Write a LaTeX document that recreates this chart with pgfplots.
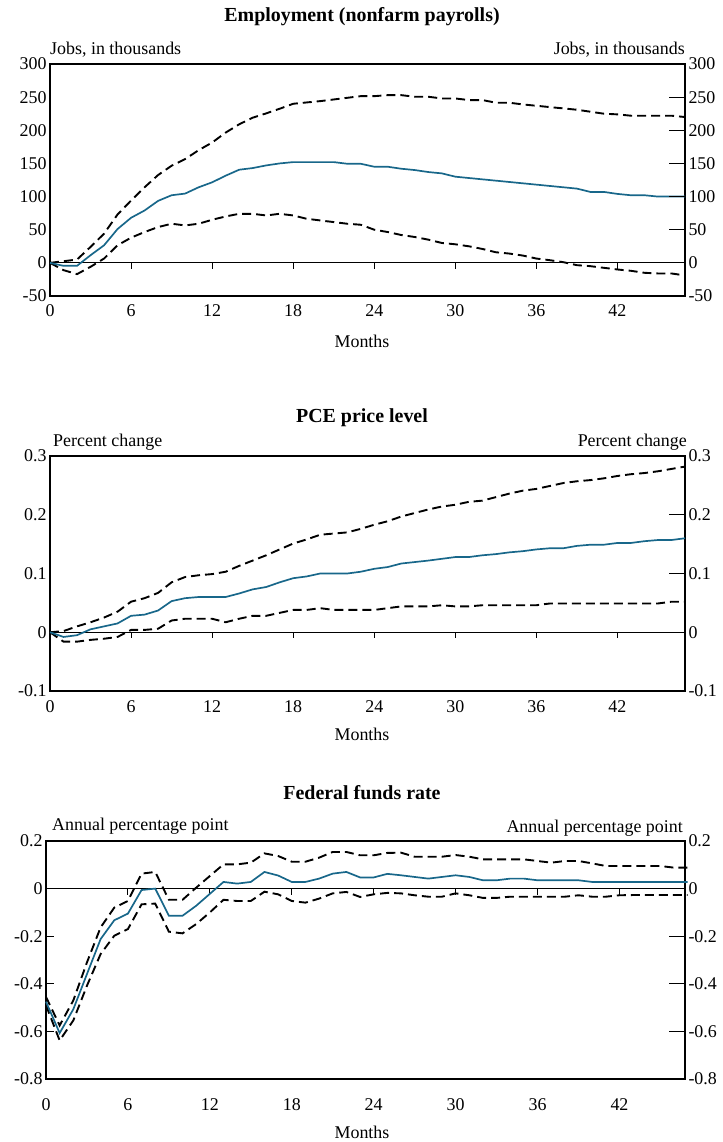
\documentclass[border=0pt]{standalone}
\usepackage{fontspec}
\setmainfont{Liberation Serif}
\usepackage{pgfplots}
\usepackage{pgfplotstable}
\pgfplotsset{compat=1.18}
\definecolor{irfblue}{RGB}{24,103,138}
\newcommand\lbl{\fontsize{18}{20}\selectfont}
\newcommand\ttl{\bfseries\fontsize{20}{22}\selectfont}

\pgfplotstableread{
m mid up lo
0 0 0 0
1 -4.5 2.5 -11
2 -4.5 5 -17
3 11.5 24 -6
4 26.5 44 6.5
5 51 73 26.5
6 68 94 38
7 79 114 46.5
8 93.5 132.5 54
9 102 146.5 59
10 104.5 156.5 56.5
11 114 170 59
12 121.5 181.5 65
13 131.5 196.5 70
14 140.5 209 74
15 143 219 74
16 147 225.5 71.5
17 150 232.5 74
18 152 240 71.5
19 152 242 66.5
20 152 244 64
21 152 246.5 61.5
22 149.5 249 59
23 149.5 251.5 57.5
24 145 251.5 50
25 145 253 46.5
26 142 253 42
27 140 250.6 39
28 137 250.6 35
29 135 248 30
30 130 248 28
31 128 245.6 25
32 126 245.6 21
33 124 241.6 16
34 122 241.6 14
35 120 239 11
36 118 237 6.5
37 116 235 4
38 114 233 1
39 112 231 -3.5
40 107 228 -5
41 107 225 -7.5
42 104 224 -10
43 102 222 -12
44 102 222 -15
45 100 222 -16
46 100 222 -16
47 100 220 -19
}\dEmp

\pgfplotstableread{
m mid up lo
0 0 0 0
1 -0.008 0.002 -0.016
2 -0.005 0.010 -0.016
3 0.005 0.017 -0.013
4 0.010 0.025 -0.011
5 0.015 0.035 -0.008
6 0.028 0.052 0.004
7 0.030 0.058 0.004
8 0.037 0.067 0.006
9 0.053 0.085 0.020
10 0.058 0.094 0.023
11 0.060 0.097 0.023
12 0.060 0.099 0.023
13 0.060 0.103 0.017
14 0.066 0.113 0.023
15 0.073 0.122 0.028
16 0.077 0.131 0.028
17 0.085 0.141 0.033
18 0.092 0.151 0.038
19 0.095 0.158 0.038
20 0.100 0.166 0.041
21 0.100 0.168 0.038
22 0.100 0.170 0.038
23 0.103 0.176 0.038
24 0.108 0.183 0.038
25 0.111 0.189 0.041
26 0.117 0.197 0.044
27 0.1195 0.203 0.044
28 0.122 0.209 0.044
29 0.125 0.214 0.046
30 0.128 0.217 0.044
31 0.128 0.222 0.044
32 0.131 0.224 0.046
33 0.133 0.230 0.046
34 0.136 0.236 0.046
35 0.138 0.241 0.046
36 0.141 0.244 0.046
37 0.143 0.249 0.049
38 0.143 0.254 0.049
39 0.147 0.257 0.049
40 0.149 0.259 0.049
41 0.149 0.262 0.049
42 0.152 0.266 0.049
43 0.152 0.269 0.049
44 0.155 0.271 0.049
45 0.157 0.274 0.049
46 0.157 0.278 0.052
47 0.160 0.282 0.052
}\dPce

\pgfplotstableread{
m mid up lo
0 -0.475 -0.455 -0.49
1 -0.607 -0.575 -0.638
2 -0.507 -0.470 -0.554
3 -0.359 -0.310 -0.408
4 -0.212 -0.163 -0.275
5 -0.133 -0.080 -0.198
6 -0.105 -0.052 -0.170
7 -0.006 0.063 -0.066
8 0.000 0.070 -0.063
9 -0.114 -0.047 -0.181
10 -0.114 -0.047 -0.188
11 -0.072 0.004 -0.149
12 -0.022 0.053 -0.100
13 0.028 0.102 -0.047
14 0.021 0.102 -0.052
15 0.028 0.109 -0.052
16 0.070 0.148 -0.013
17 0.055 0.137 -0.024
18 0.028 0.113 -0.052
19 0.028 0.113 -0.059
20 0.042 0.130 -0.042
21 0.063 0.154 -0.020
22 0.070 0.154 -0.014
23 0.047 0.140 -0.035
24 0.047 0.140 -0.024
25 0.062 0.150 -0.018
26 0.056 0.151 -0.020
27 0.049 0.134 -0.028
28 0.042 0.134 -0.034
29 0.049 0.134 -0.034
30 0.056 0.141 -0.020
31 0.049 0.134 -0.028
32 0.035 0.123 -0.039
33 0.035 0.123 -0.039
34 0.042 0.123 -0.034
35 0.042 0.123 -0.034
36 0.035 0.116 -0.034
37 0.035 0.109 -0.034
38 0.035 0.116 -0.034
39 0.035 0.116 -0.028
40 0.028 0.106 -0.034
41 0.028 0.095 -0.034
42 0.028 0.095 -0.028
43 0.028 0.095 -0.027
44 0.028 0.095 -0.027
45 0.028 0.095 -0.027
46 0.028 0.088 -0.027
47 0.028 0.088 -0.027
}\dFed

\pgfplotsset{
  base/.style={scale only axis, anchor=north west, clip=false, no markers,
    axis line style={line width=1.1pt},
    xtick={0,6,...,42}, xticklabels={0,6,12,18,24,30,36,42},
    xtick style={draw=none},
    tick label style={font=\lbl},
    xticklabel style={anchor=base, yshift=-21bp},
    ytick pos=left, tick align=inside,
    major tick style={black, line width=0.9pt},
  },
  rax/.style={scale only axis, anchor=north west, axis line style={draw=none},
    xtick=\empty, ytick pos=right, yticklabel pos=right, tick align=inside,
    major tick length=16bp, major tick style={black, line width=0.9pt},
    tick label style={font=\lbl},
  },
  upp/.style={black, line width=1.9pt, dash pattern=on 9bp off 5bp},
  mid/.style={irfblue, line width=1.7pt},
}

\begin{document}
\begin{tikzpicture}
\useasboundingbox (0,0) rectangle (723bp,-1142bp);

% ---------- Panel 1 ----------
\begin{axis}[base, at={(50bp,-64bp)}, width=635bp, height=232bp,
  xmin=0, xmax=47, ymin=-50, ymax=300,
  ytick={-50,0,50,100,150,200,250,300},
  yticklabels={-50,0,50,100,150,200,250,300},
  ytick style={draw=none}]
  \draw[line width=0.9pt] (axis cs:0,0) -- (axis cs:47,0);
  \pgfplotsinvokeforeach{6,12,18,24,30,36,42}{\draw[line width=0.9pt] (axis cs:#1,0) -- (axis cs:#1,-9);}
  \addplot[upp] table[x=m,y=up]{\dEmp};
  \addplot[upp] table[x=m,y=lo]{\dEmp};
  \addplot[mid] table[x=m,y=mid]{\dEmp};
\end{axis}
\begin{axis}[rax, at={(50bp,-64bp)}, width=635bp, height=232bp,
  xmin=0, xmax=47, ymin=-50, ymax=300,
  ytick={-50,0,50,100,150,200,250,300},
  yticklabels={-50,0,50,100,150,200,250,300}]
\end{axis}
\node[font=\ttl, anchor=base] at (362bp,-21bp) {Employment (nonfarm payrolls)};
\node[font=\lbl, anchor=base west, inner sep=0pt] at (50bp,-54bp) {Jobs, in thousands};
\node[font=\lbl, anchor=base east, inner sep=0pt] at (685bp,-54bp) {Jobs, in thousands};
\node[font=\lbl, anchor=base] at (362bp,-347bp) {Months};

% ---------- Panel 2 ----------
\begin{axis}[base, at={(50bp,-456bp)}, width=635bp, height=235bp,
  xmin=0, xmax=47, ymin=-0.1, ymax=0.3,
  ytick={-0.1,0,0.1,0.2,0.3},
  yticklabels={-0.1,0,0.1,0.2,0.3},
  ytick style={draw=none}]
  \draw[line width=0.9pt] (axis cs:0,0) -- (axis cs:47,0);
  \pgfplotsinvokeforeach{6,12,18,24,30,36,42}{\draw[line width=0.9pt] (axis cs:#1,0) -- (axis cs:#1,-0.0102);}
  \addplot[upp] table[x=m,y=up]{\dPce};
  \addplot[upp] table[x=m,y=lo]{\dPce};
  \addplot[mid] table[x=m,y=mid]{\dPce};
\end{axis}
\begin{axis}[rax, at={(50bp,-456bp)}, width=635bp, height=235bp,
  xmin=0, xmax=47, ymin=-0.1, ymax=0.3,
  ytick={-0.1,0,0.1,0.2,0.3},
  yticklabels={-0.1,0,0.1,0.2,0.3}]
\end{axis}
\node[font=\ttl, anchor=base] at (362bp,-422bp) {PCE price level};
\node[font=\lbl, anchor=base west, inner sep=0pt] at (53bp,-446bp) {Percent change};
\node[font=\lbl, anchor=base east, inner sep=0pt] at (687bp,-446bp) {Percent change};
\node[font=\lbl, anchor=base] at (362bp,-740bp) {Months};

% ---------- Panel 3 ----------
\begin{axis}[base, at={(46bp,-841bp)}, width=639bp, height=238bp,
  xmin=0, xmax=46.8, ymin=-0.8, ymax=0.2,
  ytick={-0.8,-0.6,-0.4,-0.2,0,0.2},
  yticklabels={-0.8,-0.6,-0.4,-0.2,0,0.2},
  major tick length=8bp,
  xticklabel style={yshift=-10bp}]
  \draw[line width=0.9pt] (axis cs:0,0) -- (axis cs:46.8,0);
  \pgfplotsinvokeforeach{6,12,18,24,30,36,42}{\draw[line width=0.9pt] (axis cs:#1,0) -- (axis cs:#1,-0.025);}
  \addplot[upp] table[x=m,y=up]{\dFed};
  \addplot[upp] table[x=m,y=lo]{\dFed};
  \addplot[mid] table[x=m,y=mid]{\dFed};
\end{axis}
\begin{axis}[rax, at={(46bp,-841bp)}, width=639bp, height=238bp,
  xmin=0, xmax=46.8, ymin=-0.8, ymax=0.2,
  ytick={-0.8,-0.6,-0.4,-0.2,0,0.2},
  yticklabels={-0.8,-0.6,-0.4,-0.2,0,0.2}]
\end{axis}
\node[font=\ttl, anchor=base] at (362bp,-799bp) {Federal funds rate};
\node[font=\lbl, anchor=base west, inner sep=0pt] at (52bp,-830bp) {Annual percentage point};
\node[font=\lbl, anchor=base east, inner sep=0pt] at (683bp,-832bp) {Annual percentage point};
\node[font=\lbl, anchor=base] at (362bp,-1138bp) {Months};
\end{tikzpicture}
\end{document}
